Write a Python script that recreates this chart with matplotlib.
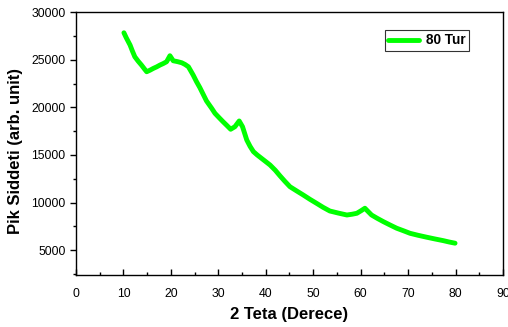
import matplotlib
matplotlib.use("Agg")
import matplotlib.pyplot as plt
from matplotlib.ticker import MultipleLocator

plt.rcParams['font.family'] = ['Liberation Sans', 'DejaVu Sans']

two_theta = [10.1, 10.6, 11.4, 11.9, 12.4, 13.1, 13.8, 14.4, 14.9, 15.6, 16.3, 17.0, 17.7,
             18.4, 19.1, 19.8, 20.5, 21.4, 22.3, 23.0, 23.7, 24.7, 25.4, 26.1, 27.5,
             28.6, 29.3, 30.2, 31.0, 31.8, 32.6, 33.5, 34.4, 35.1, 36.0, 36.7, 37.4,
             38.2, 39.1, 40.0, 40.9, 42.0, 43.0, 44.0, 45.1, 46.5, 47.9, 49.3, 50.7,
             52.1, 53.5, 55.3, 57.1, 58.2, 59.2, 60.1, 60.9, 61.6, 62.3, 63.5, 64.8,
             66.2, 67.6, 69.0, 70.4, 72.1, 73.9, 75.6, 77.4, 78.6, 79.9]
intensity = [27830, 27300, 26540, 25900, 25310, 24850, 24440, 24050, 23740, 23900, 24090,
             24250, 24440, 24600, 24790, 25420, 24890, 24800, 24680, 24500, 24260, 23390,
             22700, 22080, 20680, 19900, 19370, 18900, 18490, 18100, 17700, 17970, 18570,
             17970, 16570, 15900, 15350, 15000, 14650, 14300, 13950, 13400, 12810, 12250,
             11670, 11230, 10800, 10350, 9930, 9500, 9120, 8900, 8700, 8780, 8880, 9150,
             9410, 9050, 8700, 8350, 8000, 7650, 7310, 7050, 6780, 6570, 6370, 6190, 6010,
             5870, 5740]

fig = plt.figure(figsize=(5.08, 3.27), dpi=100)
ax = fig.add_axes([0.1496, 0.159, 0.8405, 0.804])
ax.plot(two_theta, intensity, color='#00FF00', lw=3.5, solid_capstyle='round',
        solid_joinstyle='round', label='80 Tur')

ax.set_xlim(0, 90)
ax.set_ylim(2400, 30000)
ax.xaxis.set_major_locator(MultipleLocator(10))
ax.xaxis.set_minor_locator(MultipleLocator(5))
ax.yaxis.set_major_locator(MultipleLocator(5000))
ax.yaxis.set_minor_locator(MultipleLocator(2500))
ax.tick_params(axis='x', which='major', direction='in', length=4, width=1, labelsize=8.8, pad=9.5)
ax.tick_params(axis='x', which='minor', direction='in', length=2.5, width=1)
ax.tick_params(axis='y', which='major', direction='out', length=4, width=1, labelsize=8.8)
ax.tick_params(axis='y', which='minor', direction='out', length=2.5, width=1)
for s in ax.spines.values():
    s.set_linewidth(1)

ax.set_xlabel('2 Teta (Derece)', fontsize=12, fontweight='bold', labelpad=5)
ax.set_ylabel('Pik Siddeti (arb. unit)', fontsize=12, fontweight='bold')
ax.yaxis.set_label_coords(-0.125, 0.47)

leg = ax.legend(loc='upper right', bbox_to_anchor=(0.921, 0.932),
                prop={'weight': 'bold', 'size': 9.8}, frameon=True, fancybox=False,
                handlelength=2.3, handletextpad=0.5, borderpad=0.25, borderaxespad=0)
leg.get_frame().set_edgecolor('black')
leg.get_frame().set_linewidth(0.8)

fig.savefig('out.png', dpi=100)
